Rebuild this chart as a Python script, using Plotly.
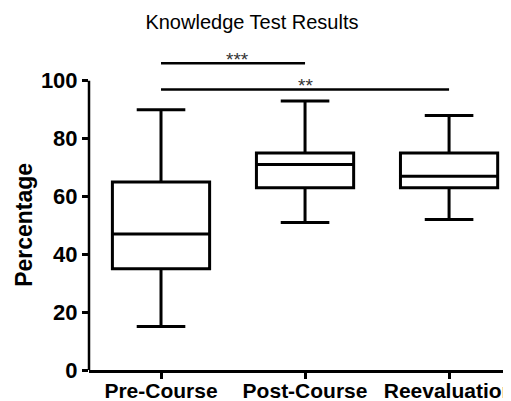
import plotly.graph_objects as go

categories = ["Pre-Course", "Post-Course", "Reevaluation"]
lower = [15, 51, 52]
q1 = [35, 63, 63]
median = [47, 71, 67]
q3 = [65, 75, 75]
upper = [90, 93, 88]
y_ticks = [0, 20, 40, 60, 80, 100]

# significance brackets: (start category index, end category index, level, label)
sig_start = [0, 0]
sig_end = [1, 2]
sig_level = [106, 97]
sig_label = ["***", "**"]
sig_label_x = [0.53, 1.0]

fig = go.Figure()
for i, c in enumerate(categories):
    fig.add_trace(go.Box(
        x=[c], q1=[q1[i]], median=[median[i]], q3=[q3[i]],
        lowerfence=[lower[i]], upperfence=[upper[i]],
        width=0.675, whiskerwidth=0.5, boxpoints=False,
        fillcolor="white", line=dict(color="black", width=3),
        showlegend=False, hoverinfo="skip"))

shapes = [dict(type="line", xref="paper", yref="y", x0=0, x1=0, y0=0, y1=100,
               line=dict(color="black", width=2.5))]
annotations = []
for s, e, lv, lab, lx in zip(sig_start, sig_end, sig_level, sig_label, sig_label_x):
    shapes.append(dict(type="line", xref="x", yref="y", x0=s, x1=e, y0=lv, y1=lv,
                       line=dict(color="black", width=2.5)))
    annotations.append(dict(x=lx, y=lv, xref="x", yref="y",
                            text=lab, showarrow=False, yanchor="bottom", yshift=-9,
                            font=dict(size=19, color="#333", family="Liberation Sans")))

annotations.append(dict(text="<b>Percentage</b>", xref="paper", yref="paper",
                        x=-0.154, y=0.448, xanchor="center", yanchor="middle",
                        textangle=-90, showarrow=False,
                        font=dict(size=23, color="black", family="Liberation Sans")))

fig.update_layout(
    width=503, height=393,
    margin=dict(l=81, r=0, t=38, b=31),
    plot_bgcolor="white", paper_bgcolor="white",
    title=dict(text="Knowledge Test Results", x=0.485, xanchor="center",
               y=0.964, yanchor="middle",
               font=dict(size=20, color="black", family="Liberation Sans")),
    shapes=shapes, annotations=annotations,
    xaxis=dict(type="category", categoryorder="array", categoryarray=categories,
               range=[-0.5, 2.43], showline=True, linecolor="black", linewidth=2.5,
               ticks="outside", ticklen=6, tickwidth=2.5, tickcolor="black",
               showgrid=False, zeroline=False, tickangle=0, automargin=False,
               ticklabelstandoff=-6,
               tickfont=dict(size=21, color="black", family="Liberation Sans", weight="bold")),
    yaxis=dict(range=[0, 112], tickvals=y_ticks, showline=False, automargin=False,
               ticks="outside", ticklen=6, tickwidth=2.5, tickcolor="black",
               showgrid=False, zeroline=False,
               tickfont=dict(size=22, color="black", family="Liberation Sans", weight="bold")),
)
fig.write_html("out.html")
